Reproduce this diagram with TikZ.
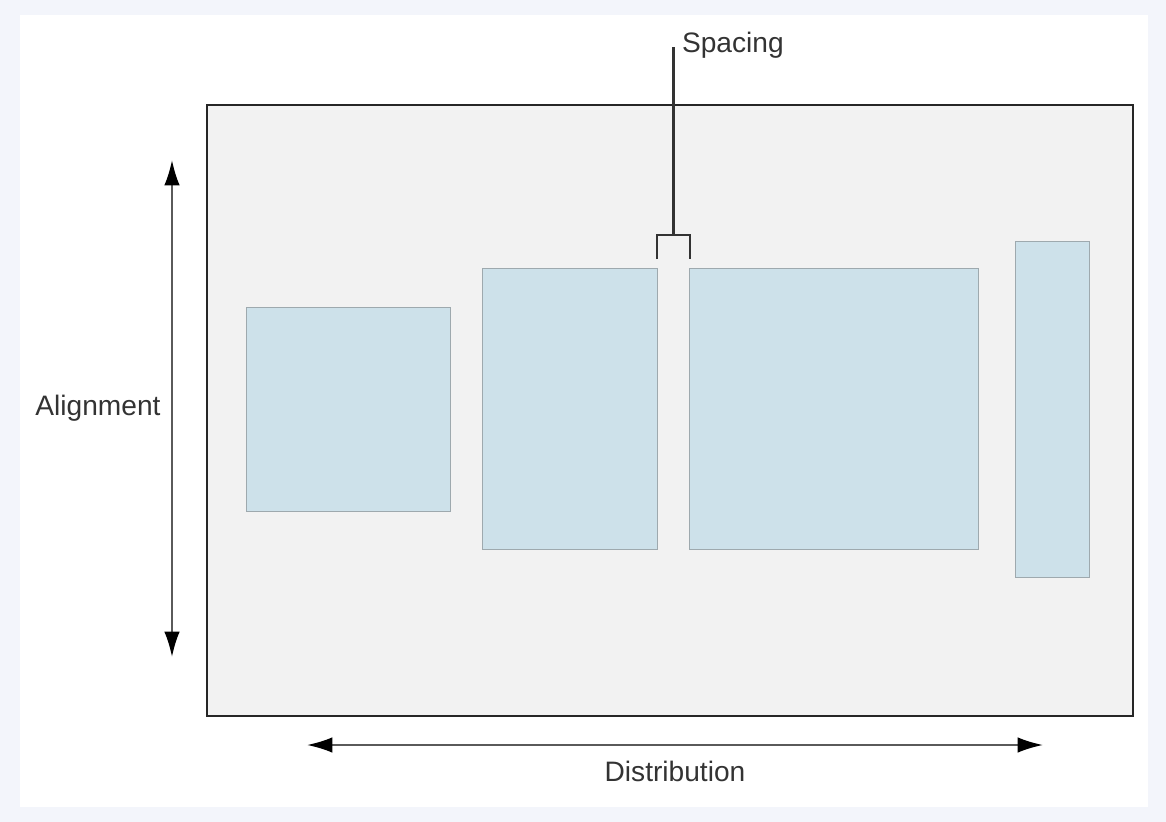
\documentclass[tikz,border=0pt]{standalone}
\usepackage{fontspec}
\setmainfont{Liberation Sans}
\usetikzlibrary{arrows.meta}

\definecolor{pagebg}{HTML}{F3F5FB}
\definecolor{framefill}{HTML}{F2F2F2}
\definecolor{boxfill}{HTML}{CDE1EA}
\definecolor{boxline}{HTML}{9EA9AE}
\definecolor{inkgray}{HTML}{333333}
\definecolor{shaftgray}{HTML}{5A5A5A}

\tikzset{
  block/.style={draw=boxline, line width=0.7pt, fill=boxfill, inner sep=0pt},
  caption/.style={font=\fontsize{20}{24}\selectfont, text=inkgray, inner sep=2pt},
  dimarrow/.style={line width=1.4pt, draw=shaftgray,
    {Latex[length=18pt,width=11pt,black]}-{Latex[length=18pt,width=11pt,black]}},
  leader/.style={line width=1.5pt, draw=inkgray}
}

\begin{document}
\begin{tikzpicture}[x=0.025cm, y=-0.025cm]
    % Page and white sheet
    \fill[pagebg] (0, 0) rectangle (1166, 822);
    \fill[white] (20, 15) rectangle (1148, 807);
    \useasboundingbox (0, 0) rectangle (1166, 822);

    % Layout frame
    \draw[line width=1.8pt, draw=black!85, fill=framefill] (207, 105) rectangle (1133, 716);

    % Blocks
    \node[block, minimum width=5.075cm, minimum height=5.075cm] (boxA) at (348.5, 409.5) {};
    \node[block, minimum width=4.35cm, minimum height=7cm] (boxB) at (570, 409) {};
    \node[block, minimum width=7.2cm, minimum height=7cm] (boxC) at (834, 409) {};
    \node[block, minimum width=1.85cm, minimum height=8.375cm] (boxD) at (1052, 409.5) {};

    % Alignment arrow
    \coordinate (alignTop) at (172, 160);
    \coordinate (alignBot) at (172, 657);
    \draw[dimarrow] (alignTop) -- (alignBot);
    \node[caption] (align) at (98, 408) {Alignment};

    % Distribution arrow
    \coordinate (distLeft) at (307, 745);
    \coordinate (distRight) at (1043, 745);
    \draw[dimarrow] (distLeft) -- (distRight);
    \node[caption] (dist) at (675, 771) {Distribution};

    % Spacing bracket between the middle blocks
    \coordinate (gapL) at (657, 235);
    \coordinate (gapR) at (690, 235);
    \coordinate (gapMid) at (673.5, 235);
    \coordinate (leadTop) at (673.5, 47);
    \node[caption, anchor=west] (spacing) at (679, 45) {Spacing};
    \draw[leader] (657, 259) -- (gapL) -- (gapR) -- (690, 259);
    \draw[leader] (gapMid) -- (leadTop);
\end{tikzpicture}
\end{document}
